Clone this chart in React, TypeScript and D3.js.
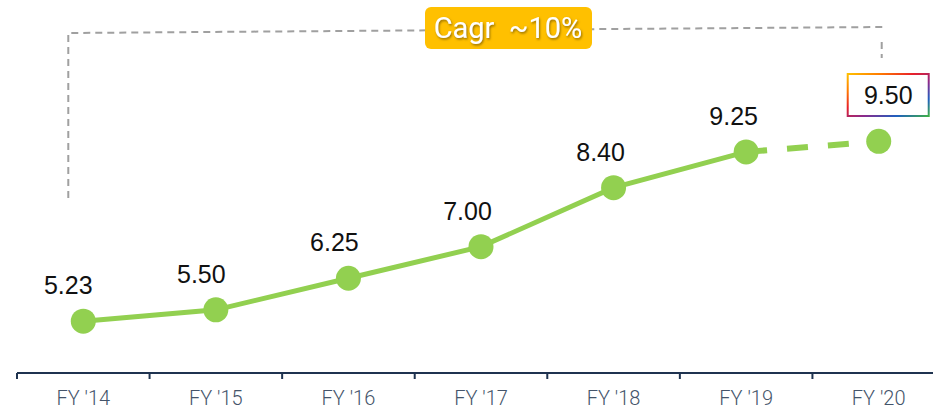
import React, { useEffect, useRef } from 'react';
import * as d3 from 'd3';

const YEARS = ["FY '14", "FY '15", "FY '16", "FY '17", "FY '18", "FY '19", "FY '20"];
const VALUES = [5.23, 5.5, 6.25, 7.0, 8.4, 9.25, 9.5];
const VALUE_LABELS = ["5.23", "5.50", "6.25", "7.00", "8.40", "9.25", "9.50"];
const CAGR_LABEL = "Cagr  ~10%";
const GRADIENT_STOPS = ["#ffc000", "#ff7a00", "#e8202a", "#8a2a8c", "#1f5fbf", "#3fae49"];

const App: React.FC = () => {
  const svgRef = useRef<SVGSVGElement>(null);

  useEffect(() => {
    if (!svgRef.current) return;
    d3.select(svgRef.current).selectAll("*").remove();

    const width = 933;
    const height = 410;
    const axisY = 373;

    const svg = d3.select(svgRef.current)
      .attr("width", width)
      .attr("height", height);

    const defs = svg.append("defs");
    const grad = defs.append("linearGradient")
      .attr("id", "rainbow")
      .attr("x1", "0%").attr("y1", "0%")
      .attr("x2", "100%").attr("y2", "100%");
    GRADIENT_STOPS.forEach((c, i) => {
      grad.append("stop")
        .attr("offset", `${(i / (GRADIENT_STOPS.length - 1)) * 100}%`)
        .attr("stop-color", c);
    });
    const shadow = defs.append("filter").attr("id", "txtShadow");
    shadow.append("feDropShadow")
      .attr("dx", 1).attr("dy", 1.5)
      .attr("stdDeviation", 1)
      .attr("flood-color", "#7a5a00")
      .attr("flood-opacity", 0.8);

    const x = d3.scaleBand<string>()
      .domain(YEARS)
      .range([17, 945]);

    const y = d3.scaleLinear()
      .domain([4, 12.5])
      .range([axisY, 15]);

    const cx = (i: number) => (x(YEARS[i]) as number) + x.bandwidth() / 2;

    // x axis
    const axis = svg.append("g")
      .attr("transform", `translate(0,${axisY})`);
    axis.append("line")
      .attr("x1", 17).attr("x2", width)
      .attr("stroke", "#1f3350").attr("stroke-width", 2);
    const bounds = YEARS.map(d => x(d) as number);
    axis.selectAll("line.tick")
      .data(bounds)
      .enter()
      .append("line")
      .attr("class", "tick")
      .attr("x1", d => d).attr("x2", d => d)
      .attr("y1", 0).attr("y2", 6)
      .attr("stroke", "#1f3350").attr("stroke-width", 2);
    axis.selectAll("text")
      .data(YEARS)
      .enter()
      .append("text")
      .attr("x", (d, i) => cx(i))
      .attr("y", 32)
      .attr("text-anchor", "middle")
      .style("font-family", "Roboto, sans-serif")
      .style("font-weight", 300)
      .style("font-size", "20px")
      .style("fill", "#44546a")
      .text(d => d);

    // bracket annotation
    const bracketLeft = cx(0) - 15;
    const bracketRight = cx(6) + 3;
    svg.append("path")
      .attr("d", `M${bracketLeft},198 L${bracketLeft},33 L${bracketRight + 3},27`)
      .attr("fill", "none")
      .attr("stroke", "#a0a0a0")
      .attr("stroke-width", 2)
      .attr("stroke-dasharray", "7,5");
    svg.append("line")
      .attr("x1", bracketRight).attr("x2", bracketRight)
      .attr("y1", 42).attr("y2", 58)
      .attr("stroke", "#a0a0a0")
      .attr("stroke-width", 2)
      .attr("stroke-dasharray", "7,5");

    // Cagr label
    svg.append("rect")
      .attr("x", 425).attr("y", 7)
      .attr("width", 167).attr("height", 42)
      .attr("rx", 6)
      .attr("fill", "#ffc000");
    svg.append("text")
      .attr("x", 508).attr("y", 38)
      .attr("text-anchor", "middle")
      .attr("filter", "url(#txtShadow)")
      .style("white-space", "pre")
      .style("font-family", "Roboto, sans-serif")
      .style("font-size", "29px")
      .style("fill", "#ffffff")
      .text(CAGR_LABEL);

    // line
    const line = d3.line<number>()
      .x((d, i) => cx(i))
      .y(d => y(d));
    svg.append("path")
      .datum(VALUES.slice(0, 6))
      .attr("d", line)
      .attr("fill", "none")
      .attr("stroke", "#92d050")
      .attr("stroke-width", 5);
    svg.append("line")
      .attr("x1", cx(5)).attr("y1", y(VALUES[5]))
      .attr("x2", cx(6)).attr("y2", y(VALUES[6]))
      .attr("stroke", "#92d050")
      .attr("stroke-width", 6)
      .attr("stroke-dasharray", "21,20");

    svg.append("g")
      .selectAll("circle")
      .data(VALUES)
      .enter()
      .append("circle")
      .attr("cx", (d, i) => cx(i))
      .attr("cy", d => y(d))
      .attr("r", 12.5)
      .attr("fill", "#92d050");

    // value labels
    const last = VALUES.length - 1;
    svg.append("rect")
      .attr("x", cx(last) - 31).attr("y", 74)
      .attr("width", 81).attr("height", 42)
      .attr("fill", "#ffffff")
      .attr("stroke", "url(#rainbow)")
      .attr("stroke-width", 2);

    svg.append("g")
      .selectAll("text")
      .data(VALUES)
      .enter()
      .append("text")
      .attr("x", (d, i) => (i === last ? cx(i) + 9.5 : cx(i) - 15 + i * 0.5))
      .attr("y", (d, i) => (i === last ? 104 : y(d) - 27))
      .attr("text-anchor", "middle")
      .style("font-family", "'Liberation Sans', Arial, sans-serif")
      .style("font-size", "25px")
      .style("fill", "#111111")
      .text((d, i) => VALUE_LABELS[i]);
  }, []);

  return (
    <svg ref={svgRef} style={{ position: 'absolute', left: 0, top: 0, display: 'block' }}></svg>
  );
};

export default App;
